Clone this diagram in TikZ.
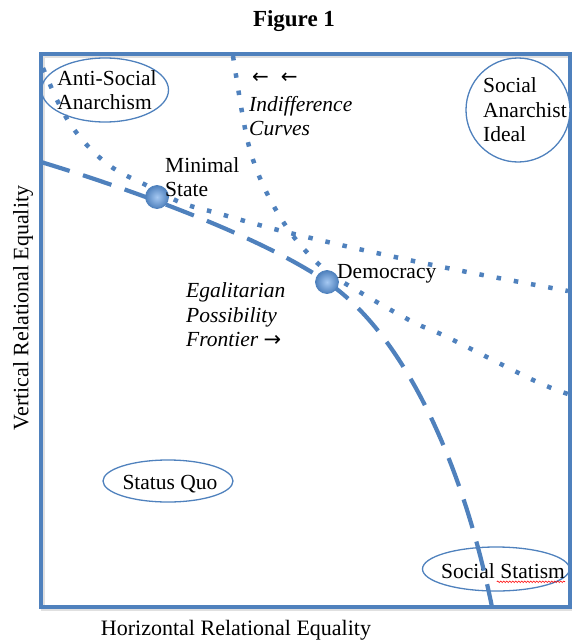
\documentclass[tikz,border=0pt]{standalone}
\usepackage{fontspec}
\setmainfont{Liberation Serif}
\newfontfamily\arrowfont{DejaVu Sans}
\usetikzlibrary{shapes.geometric,decorations.pathmorphing,calc}
\definecolor{axisblue}{RGB}{79,129,189}
\definecolor{balllight}{RGB}{165,200,242}
\begin{document}
\begin{tikzpicture}[x=1pt,y=-1pt,
  lbl/.style={font=\fontsize{21.5}{24.5}\selectfont, inner sep=0pt, align=left},
  ilbl/.style={font=\fontsize{21.5}{24.5}\selectfont\itshape, inner sep=0pt, align=left},
  axislbl/.style={font=\fontsize{22}{26}\selectfont, inner sep=0pt},
  oval/.style={draw=axisblue, line width=1.3pt, ellipse, inner sep=0pt},
  frontier/.style={axisblue, line width=4.2pt, dash pattern=on 30pt off 14pt},
  indiff/.style={axisblue, line width=4.5pt, dash pattern=on 4.5pt off 13pt},
  pointball/.style={circle, minimum size=23pt, inner sep=0pt, draw=axisblue,
    line width=0.8pt, inner color=balllight, outer color=axisblue}
]
\useasboundingbox (0,0) rectangle (572,642);

% title and axis labels
\node[font=\fontsize{23}{27}\selectfont\bfseries, inner sep=0pt] (title) at (294,21) {Figure 1};
\node[axislbl, rotate=90] (ylab) at (23,308) {Vertical Relational Equality};
\node[axislbl] (xlab) at (236,630) {Horizontal Relational Equality};

% plotting frame
\draw[black, opacity=0.12, line width=4pt] (43,56) rectangle (572,609);
\draw[axisblue, line width=4pt] (41,54) rectangle (570,607);

% indifference curves
\draw[indiff] plot[smooth, tension=0.6] coordinates
  {(43,68) (63,112) (85,143) (113,168) (148,186) (182,203) (217,213)
   (252,223) (290,233) (363,250) (457,270) (568,291)};
\draw[indiff] plot[smooth, tension=0.6] coordinates
  {(233,56) (242,112) (250,150) (263,185) (282,220) (303,248) (328,272)
   (363,294) (413,322) (447,337) (533,380) (568,394)};

% regions
\node[oval, minimum width=127pt, minimum height=64pt] (asa) at (105,90) {};
\node[lbl] (asatext) at (107,90) {Anti-Social\\Anarchism};
\node[draw=axisblue, line width=1.3pt, circle, fill=white, minimum size=104pt, inner sep=0pt] (sai) at (518,110) {};
\node[lbl, anchor=west] (saitext) at (483,110) {Social\\Anarchist\\Ideal};
\node[oval, minimum width=130pt, minimum height=42pt] (sq) at (168,481) {};
\node[lbl] (sqtext) at (170,484) {Status Quo};
\node[oval, minimum width=147pt, minimum height=44pt] (ss) at (496,569) {};
\node[lbl] (sstext) at (503,571) {Social Statism};
\draw[red, line width=0.6pt, decorate, decoration={snake, amplitude=0.8pt, segment length=3pt}]
  ($(sstext.south west)!0.45!(sstext.south east)+(0,3)$) -- ($(sstext.south east)+(0,3)$);

% egalitarian possibility frontier, through the two marked points
\coordinate (fstart) at (41,162);
\coordinate (fbend) at (327,282);
\coordinate (fend) at (492,607);
\draw[frontier] (fstart) .. controls (130,189) and (260,236) .. (fbend)
  .. controls (398,330) and (460,450) .. (fend);
\node[pointball] (ms) at (157,197) {};
\node[pointball] (dem) at (fbend) {};

\node[lbl, anchor=west] (mstext) at (165,177) {Minimal\\State};
\node[lbl, anchor=west] (demtext) at (337,274) {Democracy};

% curve labels
\node[font=\fontsize{20}{24}\selectfont\arrowfont, inner sep=0pt, anchor=west] (arrows) at (252,78) {←\hspace{12pt}←};
\node[ilbl, anchor=west] (indtext) at (249,116) {Indifference\\Curves};
\node[ilbl, anchor=west] (eftext) at (186,315) {Egalitarian\\Possibility\\Frontier {\upshape\arrowfont\fontsize{21}{22}\selectfont →}};
\end{tikzpicture}
\end{document}
